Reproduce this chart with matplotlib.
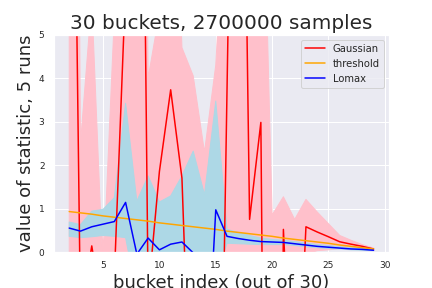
import matplotlib
matplotlib.use("Agg")
import matplotlib.pyplot as plt
import seaborn as sns

sns.set()

# bucket indices
buckets = list(range(2, 30))

# Gaussian: mean over runs and the band around it
gauss_mean = [19, -1.5, 0.14, -1.5, -0.6, 6.1, 24, -1.0, 1.85, 3.73, 1.70, -5.7, -6, -11.9,
              3.75, 19.4, 0.75, 2.98, -26.8, 0.52, -5, 0.58, 0.46, 0.35, 0.235, 0.18, 0.13, 0.07]
gauss_hi = [40, 2.5, 5.8, -0.5, 5.4, 20, 30, 4.0, 5.5, 12, 4.7, 4.05, 2.3, 4.3,
            9, 15, 12, 11, 0.85, 1.27, 0.75, 1.21, 0.92, 0.65, 0.38, 0.27, 0.17, 0.09]
gauss_lo = [-5, -5, -3, 0.4, -3, -5, -5, -5, -5, -5, -5, -5, -5, -5,
            -5, -5, -5, -5, -5, -0.25, -5, -0.05, 0.03, 0.05, 0.08, 0.08, 0.07, 0.05]

# threshold curve
threshold = [0.93, 0.90, 0.87, 0.83, 0.80, 0.77, 0.74, 0.71, 0.67, 0.64, 0.61, 0.58, 0.55, 0.52,
             0.48, 0.45, 0.42, 0.39, 0.36, 0.32, 0.29, 0.26, 0.23, 0.20, 0.16, 0.13, 0.10, 0.07]

# Lomax: mean over runs and the band around it
lomax_mean = [0.55, 0.48, 0.58, 0.64, 0.70, 1.14, -0.05, 0.32, 0.05, 0.18, 0.23, -0.02, -3.9, 0.97,
              0.36, 0.31, 0.27, 0.24, 0.23, 0.22, 0.19, 0.16, 0.13, 0.11, 0.09, 0.07, 0.06, 0.04]
lomax_hi = [0.69, 0.63, 0.94, 0.98, 1.25, 3.42, 1.17, 1.75, 1.15, 1.29, 1.75, 2.32, 1.32, 3.47,
            0.52, 0.45, 0.38, 0.32, 0.29, 0.27, 0.24, 0.21, 0.17, 0.15, 0.12, 0.10, 0.08, 0.05]
lomax_lo = [0.36, 0.33, 0.35, 0.38, 0.36, 0.33, -1, -0.5, -0.8, -0.5, -0.4, -1, -8, -0.6,
            0.20, 0.19, 0.18, 0.17, 0.17, 0.17, 0.15, 0.12, 0.10, 0.08, 0.07, 0.05, 0.04, 0.03]

fig, ax = plt.subplots(figsize=(6, 4), dpi=72)
fig.subplots_adjust(left=0.125, right=0.9, bottom=0.125, top=0.88)

ax.fill_between(buckets, gauss_lo, gauss_hi, color="pink")
ax.fill_between(buckets, lomax_lo, lomax_hi, color="lightblue")
ax.plot(buckets, gauss_mean, color="red", label="Gaussian")
ax.plot(buckets, threshold, color="orange", label="threshold")
ax.plot(buckets, lomax_mean, color="blue", label="Lomax")

ax.set_ylim(0, 5)
ax.tick_params(labelsize=9)
ax.set_title("30 buckets, 2700000 samples", fontsize=20)
ax.set_xlabel("bucket index (out of 30)", fontsize=18)
ax.set_ylabel("value of statistic, 5 runs", fontsize=18)
ax.legend(loc="upper right", fontsize=10)

fig.savefig("out.png", dpi=72)
